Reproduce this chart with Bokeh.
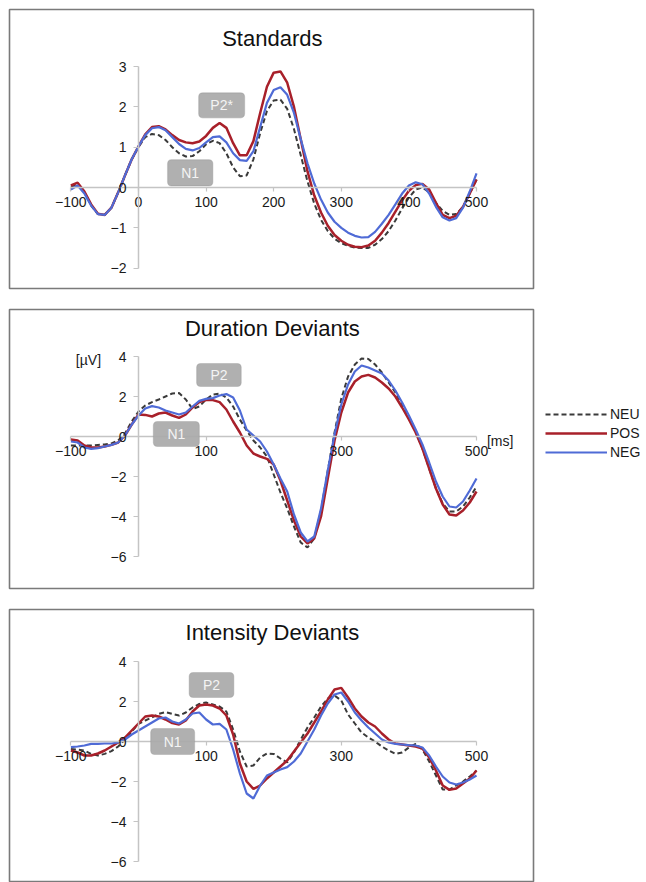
from bokeh.plotting import figure
from bokeh.layouts import column
from bokeh.models import (Range1d, FixedTicker, Label, BoxAnnotation, Legend,
                          LegendItem, ColumnDataSource)
from bokeh.embed import file_html
from bokeh.resources import INLINE

# ---------------- data ----------------
time_ms = list(range(-100, 501, 10))

std_neu = [0.02, 0.08, -0.12, -0.45, -0.66, -0.68, -0.5, -0.12, 0.3, 0.7,
           1.0, 1.25, 1.33, 1.3, 1.18, 1.0, 0.85, 0.77, 0.78, 0.9,
           1.07, 1.16, 1.1, 0.85, 0.5, 0.28, 0.3, 0.7, 1.35, 1.9,
           2.16, 2.18, 1.95, 1.45, 0.8, 0.15, -0.4, -0.8, -1.08, -1.27,
           -1.38, -1.45, -1.49, -1.5, -1.5, -1.42, -1.28, -1.08, -0.82, -0.52,
           -0.25, -0.05, 0.0, -0.12, -0.38, -0.58, -0.68, -0.66, -0.48, -0.15, 0.2]
std_pos = [0.05, 0.12, -0.1, -0.42, -0.65, -0.68, -0.5, -0.12, 0.3, 0.7,
           1.02, 1.32, 1.5, 1.52, 1.44, 1.3, 1.18, 1.12, 1.1, 1.14,
           1.28, 1.48, 1.6, 1.48, 1.1, 0.8, 0.8, 1.15, 1.85, 2.5,
           2.85, 2.88, 2.6, 2.0, 1.2, 0.4, -0.2, -0.62, -0.95, -1.18,
           -1.32, -1.42, -1.47, -1.48, -1.44, -1.32, -1.12, -0.88, -0.6, -0.32,
           -0.08, 0.06, 0.09, -0.05, -0.38, -0.68, -0.76, -0.7, -0.48, -0.15, 0.2]
std_neg = [-0.05, 0.05, -0.15, -0.45, -0.66, -0.68, -0.5, -0.12, 0.3, 0.7,
           1.02, 1.3, 1.47, 1.5, 1.42, 1.25, 1.08, 0.96, 0.92, 0.98,
           1.12, 1.25, 1.27, 1.12, 0.85, 0.68, 0.66, 0.9, 1.5, 2.1,
           2.42, 2.49, 2.3, 1.85, 1.2, 0.6, 0.1, -0.3, -0.62, -0.85,
           -1.0, -1.12, -1.2, -1.24, -1.23, -1.1, -0.9, -0.68, -0.42, -0.15,
           0.05, 0.13, 0.08, -0.15, -0.48, -0.74, -0.82, -0.76, -0.5, -0.1, 0.35]

dur_neu = [-0.45, -0.45, -0.45, -0.45, -0.42, -0.4, -0.35, -0.2, 0.15, 0.75,
           1.25, 1.55, 1.72, 1.85, 2.0, 2.15, 2.17, 1.85, 1.38, 1.5,
           1.85, 2.1, 2.15, 1.95, 1.5, 0.85, 0.3, -0.2, -0.55, -1.0,
           -1.9, -2.8, -3.6, -4.5, -5.3, -5.55, -5.1, -3.7, -1.7, 0.2,
           1.9, 3.0, 3.6, 3.9, 3.88, 3.6, 3.2, 2.7, 2.2, 1.6,
           0.95, 0.25, -0.6, -1.6, -2.6, -3.35, -3.75, -3.75, -3.5, -3.05, -2.5]
dur_pos = [-0.15, -0.2, -0.45, -0.55, -0.55, -0.5, -0.42, -0.3, 0.05, 0.6,
           1.1, 1.08, 1.0, 1.15, 1.2, 1.05, 0.93, 1.1, 1.45, 1.72,
           1.82, 1.82, 1.72, 1.35, 0.75, 0.2, -0.45, -0.85, -1.0, -1.12,
           -1.4, -2.2, -3.2, -4.2, -5.0, -5.35, -5.1, -4.0, -2.1, -0.2,
           1.2, 2.2, 2.75, 3.0, 3.08, 2.95, 2.7, 2.4, 2.0, 1.45,
           0.85, 0.2, -0.6, -1.6, -2.6, -3.4, -3.9, -3.95, -3.7, -3.3, -2.75]
dur_neg = [-0.25, -0.3, -0.55, -0.62, -0.58, -0.5, -0.42, -0.3, 0.05, 0.6,
           1.05, 1.4, 1.52, 1.45, 1.3, 1.2, 1.1, 1.2, 1.5, 1.78,
           1.88, 1.92, 2.05, 2.12, 1.95, 1.3, 0.35, 0.05, -0.25, -0.75,
           -1.4, -2.1, -2.75, -3.9, -4.8, -5.25, -5.0, -3.6, -1.7, 0.1,
           1.6, 2.6, 3.25, 3.55, 3.45, 3.3, 3.15, 2.8, 2.3, 1.7,
           1.05, 0.35, -0.4, -1.3, -2.25, -3.0, -3.5, -3.55, -3.25, -2.7, -2.1]

int_neu = [-0.38, -0.4, -0.45, -0.62, -0.7, -0.62, -0.48, -0.25, 0.1, 0.5,
           0.88, 1.05, 1.2, 1.38, 1.47, 1.38, 1.3, 1.45, 1.7, 1.88,
           1.95, 1.85, 1.75, 1.5, 0.6, -0.5, -1.25, -1.2, -0.8, -0.6,
           -0.62, -0.85, -1.05, -0.55, 0.1, 0.7, 1.2, 1.75, 2.15, 2.3,
           2.05, 1.35, 0.9, 0.45, 0.2, 0.0, -0.25, -0.45, -0.62, -0.55,
           -0.3, -0.12, -0.4, -1.0, -1.7, -2.4, -2.4, -2.2, -2.0, -1.75, -1.45]
int_pos = [-0.45, -0.55, -0.7, -0.7, -0.6, -0.45, -0.25, -0.05, 0.2, 0.55,
           0.9, 1.25, 1.3, 1.25, 1.1, 0.92, 0.85, 1.05, 1.5, 1.8,
           1.85, 1.8, 1.65, 1.3, 0.35, -1.1, -2.0, -2.37, -2.2, -1.85,
           -1.55, -1.25, -0.95, -0.5, -0.05, 0.4, 0.95, 1.5, 2.1, 2.6,
           2.68, 2.2, 1.65, 1.25, 0.95, 0.75, 0.4, 0.1, -0.1, -0.15,
           -0.2, -0.25, -0.35, -0.8, -1.45, -2.2, -2.42, -2.35, -2.1, -1.85, -1.45]
int_neg = [-0.28, -0.25, -0.2, -0.12, -0.12, -0.1, -0.1, -0.05, 0.1, 0.35,
           0.55, 0.75, 0.95, 1.15, 1.2, 1.0, 0.9, 1.1, 1.4, 1.45,
           1.1, 0.85, 0.88, 0.6, -0.4, -1.6, -2.6, -2.85, -2.2, -1.7,
           -1.55, -1.4, -1.28, -1.0, -0.6, 0.0, 0.6, 1.3, 1.9, 2.35,
           2.45, 2.0, 1.45, 1.05, 0.7, 0.4, 0.1, -0.05, -0.12, -0.15,
           -0.18, -0.2, -0.3, -0.7, -1.25, -1.75, -2.05, -2.15, -2.05, -1.9, -1.7]

panel_titles = ["Standards", "Duration Deviants", "Intensity Deviants"]
series_names = ["NEU", "POS", "NEG"]
x_ticks_std = [-100, 0, 100, 200, 300, 400, 500]
x_ticks_dev = [-100, 100, 300, 500]
y_ticks_std = [-2, -1, 0, 1, 2, 3]
y_ticks_dev = [-6, -4, -2, 0, 2, 4]

# component labels: (text, left ms, right ms, bottom uV, top uV)
comp_std = [("P2*", 89, 157, 1.73, 2.35), ("N1", 43, 110, 0.04, 0.69)]
comp_dur = [("P2", 86, 152, 2.5, 3.65), ("N1", 22, 90, -0.5, 0.75)]
comp_int = [("P2", 75, 141, 2.2, 3.45), ("N1", 18, 83, -0.65, 0.65)]

# ---------------- style ----------------
FONT = "Liberation Sans"
C_NEU = "#3a3a3a"
C_POS = "#a8202a"
C_NEG = "#4f6bd6"
AX = "#c4c4c4"


def make_panel(title, neu, pos, neg, yr, ybounds, yticks, xticks, comps,
               title_y, frame_h, top_border, bottom_border):
    p = figure(frame_width=524, frame_height=frame_h,
               x_range=Range1d(-190.8, 584.3), y_range=Range1d(*yr),
               output_backend="svg", toolbar_location=None,
               min_border_left=9, min_border_top=top_border,
               min_border_right=113, min_border_bottom=bottom_border)
    p.outline_line_color = "#7a7a7a"
    p.outline_line_width = 1.6
    p.background_fill_color = "white"
    p.border_fill_color = "white"
    p.xgrid.visible = False
    p.ygrid.visible = False

    for ax in (p.xaxis[0], p.yaxis[0]):
        ax.fixed_location = 0
        ax.axis_line_color = AX
        ax.axis_line_width = 1.5
        ax.major_tick_line_color = AX
        ax.major_tick_line_width = 1.2
        ax.minor_tick_line_color = None
        ax.major_tick_in = 0
        ax.major_label_text_font = FONT
        ax.major_label_text_font_size = "14px"
        ax.major_label_text_color = "#1a1a1a"
    xa = p.xaxis[0]
    xa.bounds = (-100, 500)
    xa.ticker = FixedTicker(ticks=xticks)
    xa.major_tick_out = 4
    xa.major_label_standoff = 5
    ya = p.yaxis[0]
    ya.bounds = ybounds
    ya.ticker = FixedTicker(ticks=yticks)
    ya.major_tick_out = 5
    ya.major_label_standoff = 7

    src = ColumnDataSource(dict(t=time_ms, neu=neu, pos=pos, neg=neg))
    r_neu = p.line("t", "neu", source=src, line_color=C_NEU, line_width=2,
                   line_dash="5 3")
    r_pos = p.line("t", "pos", source=src, line_color=C_POS, line_width=2.5)
    r_neg = p.line("t", "neg", source=src, line_color=C_NEG, line_width=2.2)

    for txt, l, r, b, t in comps:
        p.add_layout(BoxAnnotation(left=l, right=r, bottom=b, top=t,
                                   fill_color="#a9a9a9", fill_alpha=0.92,
                                   line_color="#8e8e8e", line_width=1.2,
                                   border_radius=4))
        p.add_layout(Label(x=(l + r) / 2, y=(b + t) / 2, text=txt,
                           text_align="center", text_baseline="middle",
                           text_color="#f4f4f4", text_font=FONT,
                           text_font_size="14px"))

    p.add_layout(Label(x=198, y=title_y, text=title, text_align="center",
                       text_baseline="middle", text_font=FONT,
                       text_font_size="22px", text_color="#111111"))
    return p, (r_neu, r_pos, r_neg)


p1, _ = make_panel(panel_titles[0], std_neu, std_pos, std_neg,
                   (-2.506, 4.417), (-2, 3), y_ticks_std, x_ticks_std,
                   comp_std, 3.70, 279, 9, 20)
p2, rs = make_panel(panel_titles[1], dur_neu, dur_pos, dur_neg,
                    (-7.6, 6.35), (-6, 4), y_ticks_dev, x_ticks_dev,
                    comp_dur, 5.4, 279, 1, 20)
p3, _ = make_panel(panel_titles[2], int_neu, int_pos, int_neg,
                   (-7.05, 6.6), (-6, 4), y_ticks_dev, x_ticks_dev,
                   comp_int, 5.45, 273, 1, 0)

p2.add_layout(Label(x=-74, y=3.85, text="[µV]", text_align="center",
                    text_baseline="middle", text_font=FONT,
                    text_font_size="14px", text_color="#1a1a1a"))
p2.add_layout(Label(x=535, y=-0.2, text="[ms]", text_align="center",
                    text_baseline="middle", text_font=FONT,
                    text_font_size="14px", text_color="#1a1a1a"))

legend = Legend(items=[LegendItem(label=n, renderers=[r])
                       for n, r in zip(series_names, rs)],
                location=(12, 127), orientation="vertical",
                border_line_color=None, background_fill_alpha=0,
                glyph_width=62, glyph_height=18, label_standoff=3,
                spacing=1, padding=0, margin=0,
                label_text_font=FONT, label_text_font_size="14px",
                label_text_color="#1a1a1a")
p2.add_layout(legend, "right")

layout = column(p1, p2, p3, spacing=0)
open("out.html", "w").write(file_html(layout, INLINE))
